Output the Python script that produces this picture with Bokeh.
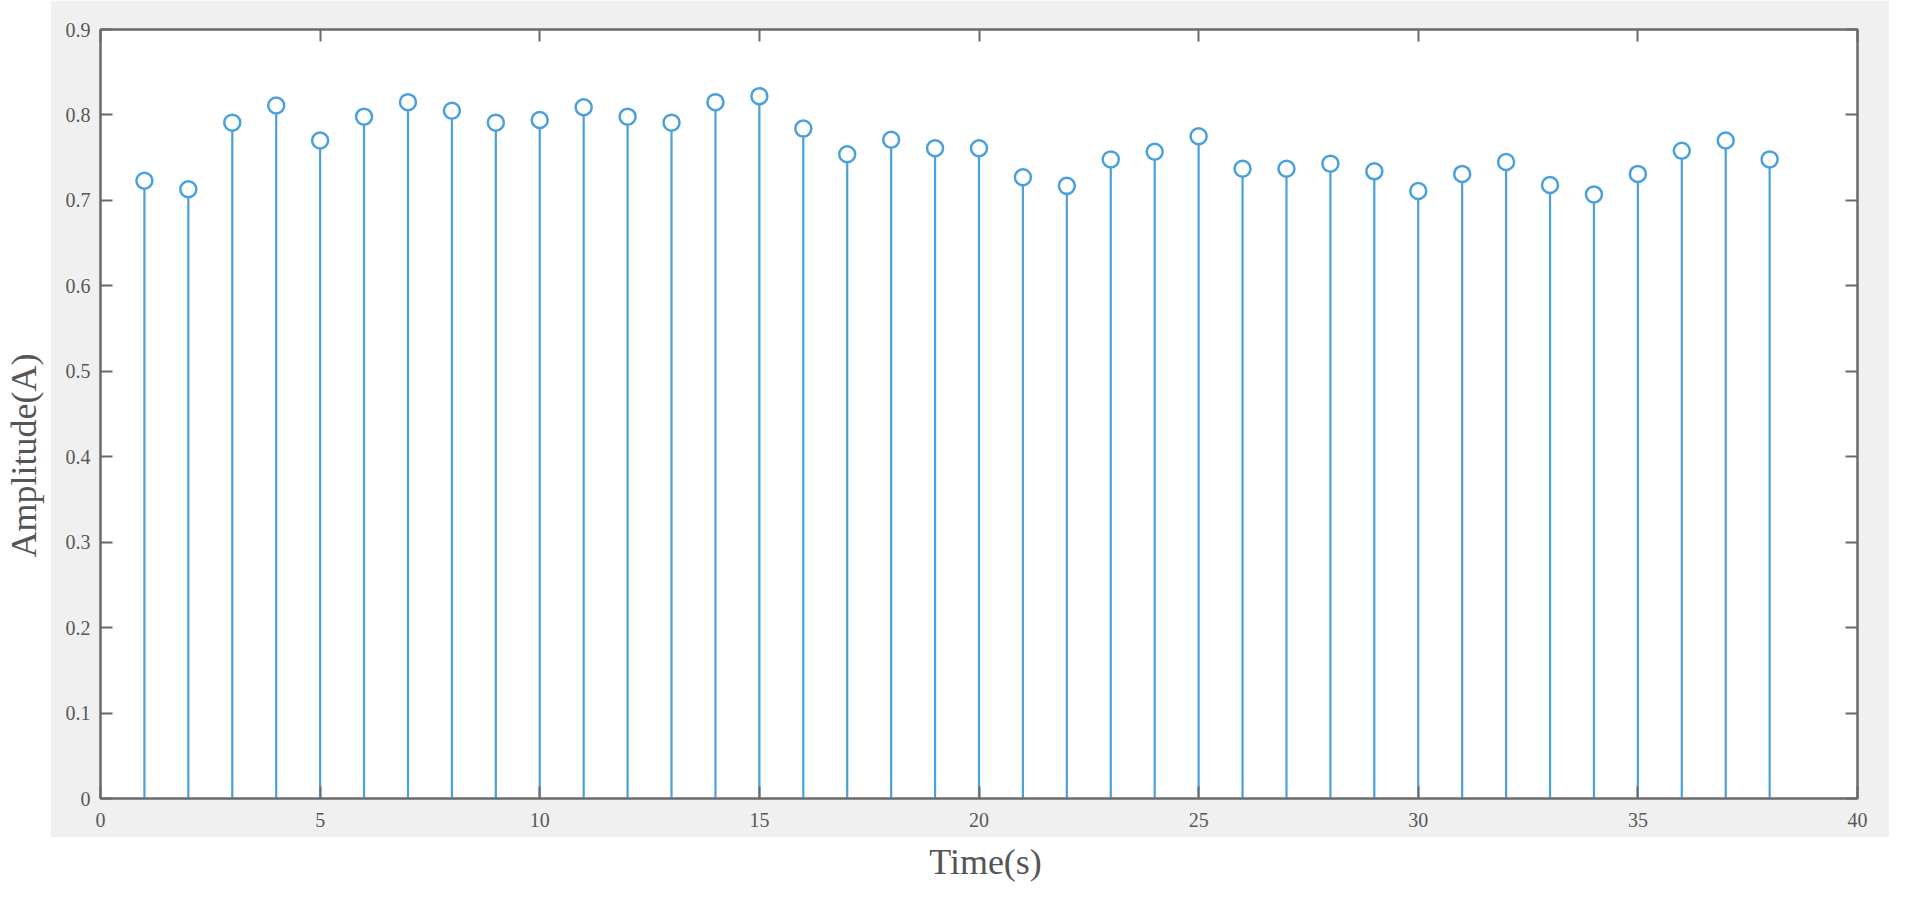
import math
from bokeh.plotting import figure
from bokeh.models import LinearAxis, FixedTicker, Range1d, Label
from bokeh.layouts import column, row
from bokeh.embed import file_html
from bokeh.resources import INLINE

# ---- data ----
time_s = list(range(1, 39))
amplitude = [0.723, 0.713, 0.791, 0.811, 0.770, 0.798, 0.815, 0.805, 0.791, 0.794,
             0.809, 0.798, 0.791, 0.815, 0.822, 0.784, 0.754, 0.771, 0.761, 0.761,
             0.727, 0.717, 0.748, 0.757, 0.775, 0.737, 0.737, 0.743, 0.734, 0.711,
             0.731, 0.745, 0.718, 0.707, 0.731, 0.758, 0.770, 0.748]
x_ticks = [0, 5, 10, 15, 20, 25, 30, 35, 40]
y_ticks = [0, 0.1, 0.2, 0.3, 0.4, 0.5, 0.6, 0.7, 0.8, 0.9]
y_tick_labels = ["0", "0.1", "0.2", "0.3", "0.4", "0.5", "0.6", "0.7", "0.8", "0.9"]
x_label = "Time(s)"
y_label = "Amplitude(A)"

X0, X1 = 0, 40
Y0, Y1 = 0, 0.9

TOTAL_W, TOTAL_H = 1889, 882
LEFT_W = 50          # white strip holding the y-axis title
PANEL_H = 837        # gray MATLAB figure panel
PANEL_W = TOTAL_W - LEFT_W
BOTTOM_H = TOTAL_H - PANEL_H

label_font = "Liberation Serif"
tick_font = "Liberation Serif"
title_color = "#555555"
axis_color = "#6a6a6a"

# ---- main axes (inside the gray panel) ----
p = figure(width=PANEL_W, height=PANEL_H, output_backend="svg", toolbar_location=None,
           x_range=Range1d(X0, X1), y_range=Range1d(Y0, Y1),
           min_border_left=50, min_border_right=PANEL_W - 1807, min_border_top=29,
           min_border_bottom=PANEL_H - 798,
           border_fill_color="#f0f0f0", background_fill_color="white")
p.grid.visible = False
p.outline_line_color = axis_color
p.outline_line_width = 2


def style_axis(ax, show_labels):
    ax.axis_line_color = axis_color
    ax.axis_line_width = 2
    ax.major_tick_line_color = axis_color
    ax.major_tick_line_width = 2
    ax.major_tick_in = 12
    ax.major_tick_out = 0
    ax.minor_tick_line_color = None
    ax.major_label_text_font = tick_font
    ax.major_label_text_font_size = "20px"
    ax.major_label_text_color = "#585858" if show_labels else None


xa = p.xaxis[0]
ya = p.yaxis[0]
xa.ticker = FixedTicker(ticks=x_ticks)
ya.ticker = FixedTicker(ticks=y_ticks)
ya.major_label_overrides = {t: s for t, s in zip(y_ticks, y_tick_labels)}
style_axis(xa, True)
style_axis(ya, True)
xa.major_label_standoff = 14
ya.major_label_standoff = 10

top_ax = LinearAxis(ticker=FixedTicker(ticks=x_ticks), major_label_standoff=0)
right_ax = LinearAxis(ticker=FixedTicker(ticks=y_ticks), major_label_standoff=0)
style_axis(top_ax, False)
style_axis(right_ax, False)
p.add_layout(top_ax, "above")
p.add_layout(right_ax, "right")

stem_color = "#4aa0da"
p.segment(x0=time_s, y0=[0] * len(time_s), x1=time_s, y1=amplitude,
          line_color=stem_color, line_width=2.2)
p.scatter(x=time_s, y=amplitude, marker="circle", size=16,
          fill_color="white", line_color=stem_color, line_width=2.5)

# ---- y-axis title strip (white, left of the panel) ----
py = figure(width=LEFT_W, height=PANEL_H, output_backend="svg", toolbar_location=None,
            x_axis_type=None, y_axis_type=None, min_border=0,
            border_fill_color="white", background_fill_color="white")
py.outline_line_color = None
py.grid.visible = False
py.add_layout(Label(x=23, y=455, x_units="canvas", y_units="canvas", text=y_label,
                    angle=math.pi / 2, text_align="center", text_baseline="middle",
                    text_font=label_font, text_font_size="36px", text_color=title_color))

# ---- x-axis title strip (white, below the panel) ----
px = figure(width=TOTAL_W, height=BOTTOM_H, output_backend="svg", toolbar_location=None,
            x_axis_type=None, y_axis_type=None, min_border=0,
            border_fill_color="white", background_fill_color="white")
px.outline_line_color = None
px.grid.visible = False
px.add_layout(Label(x=985, y=24, x_units="canvas", y_units="canvas", text=x_label,
                    text_align="center", text_baseline="middle",
                    text_font=label_font, text_font_size="36px", text_color=title_color))

layout = column(row(py, p, spacing=0), px, spacing=0)

open("out.html", "w").write(file_html(layout, INLINE))
